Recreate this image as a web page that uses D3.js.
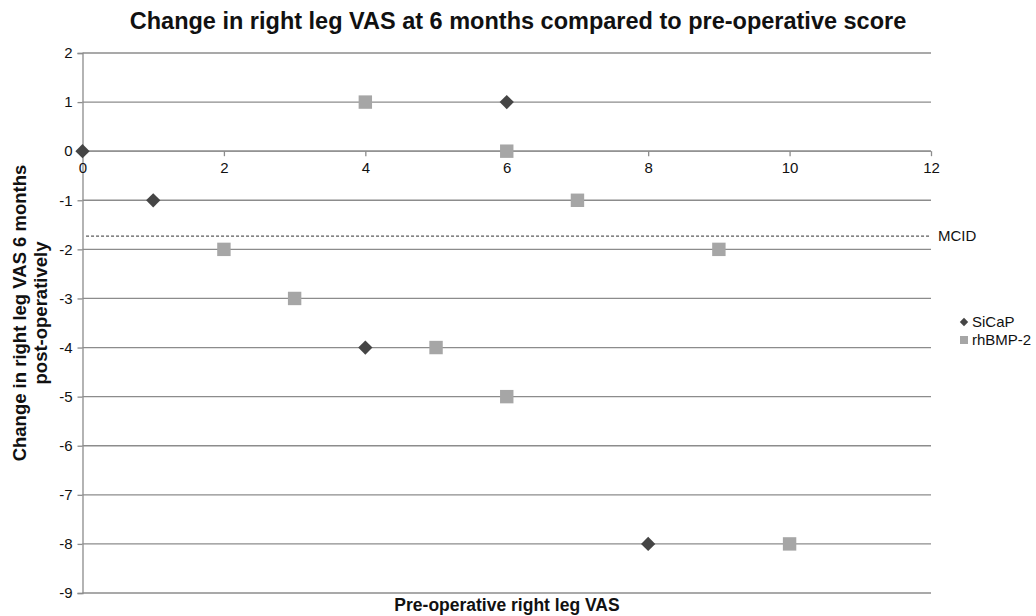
<!DOCTYPE html>
<html>
<head>
<meta charset="utf-8">
<script src="https://cdn.jsdelivr.net/npm/d3@7"></script>
<style>
  body { margin: 0; background: #fff; }
  svg { font-family: "Liberation Sans", Arial, sans-serif; }
</style>
</head>
<body>
<div id="chart"></div>
<script>
// Data
const sicapX = [0, 1, 6, 4, 8];
const sicapY = [0, -1, 1, -4, -8];
const bmpX = [4, 6, 7, 2, 9, 3, 5, 6, 10];
const bmpY = [1, 0, -1, -2, -2, -3, -4, -5, -8];
const xTicks = [0, 2, 4, 6, 8, 10, 12];
const yTicks = [2, 1, 0, -1, -2, -3, -4, -5, -6, -7, -8, -9];
const mcid = -1.73;

const width = 1036, height = 616;
const svg = d3.select('#chart').append('svg')
  .attr('width', width).attr('height', height);

const x = d3.scaleLinear().domain([0, 12]).range([82.5, 931]);
const y = d3.scaleLinear().domain([-9, 2]).range([593, 53]);

const gridColor = '#8c8c8c';
const fmt = d => String(d); // plain hyphen for negatives, as in the original

// horizontal gridlines
svg.append('g').selectAll('line')
  .data(yTicks)
  .join('line')
  .attr('x1', x(0)).attr('x2', x(12))
  .attr('y1', d => y(d)).attr('y2', d => y(d))
  .attr('stroke', gridColor).attr('stroke-width', 1.3);

// y axis
const yAxis = svg.append('g')
  .attr('transform', `translate(${x(0)},0)`)
  .call(d3.axisLeft(y).tickValues(yTicks).tickSize(5).tickFormat(fmt));
yAxis.selectAll('path, line').attr('stroke', gridColor).attr('stroke-width', 1.3);
yAxis.selectAll('text').attr('font-size', 15).attr('fill', '#111').attr('dx', '-2');

// x axis crosses at y = 0
const xAxis = svg.append('g')
  .attr('transform', `translate(0,${y(0)})`)
  .call(d3.axisBottom(x).tickValues(xTicks).tickSize(5).tickFormat(fmt));
xAxis.selectAll('path, line').attr('stroke', gridColor).attr('stroke-width', 1.3);
xAxis.select('.domain').attr('d', `M${x(0)},0H${x(12)}`);
xAxis.selectAll('text').attr('font-size', 15).attr('fill', '#111').attr('dy', '0.92em');

// MCID dashed line
svg.append('line')
  .attr('x1', x(0.05)).attr('x2', x(12))
  .attr('y1', y(mcid)).attr('y2', y(mcid))
  .attr('stroke', '#333').attr('stroke-width', 1)
  .attr('stroke-dasharray', '3,2');
svg.append('text')
  .attr('x', 938).attr('y', y(mcid) + 5)
  .attr('font-size', 15).attr('fill', '#111')
  .text('MCID');

// markers
const diamond = d3.symbol().type(d3.symbolDiamond2).size(130);
const square = d3.symbol().type(d3.symbolSquare).size(180);

const bmp = bmpX.map((v, i) => ({ x: v, y: bmpY[i] }));
const sicap = sicapX.map((v, i) => ({ x: v, y: sicapY[i] }));

svg.append('g').selectAll('path')
  .data(bmp)
  .join('path')
  .attr('transform', d => `translate(${x(d.x)},${y(d.y)})`)
  .attr('d', square)
  .attr('fill', '#a6a6a6');

svg.append('g').selectAll('path')
  .data(sicap)
  .join('path')
  .attr('transform', d => `translate(${x(d.x)},${y(d.y)})`)
  .attr('d', diamond)
  .attr('fill', '#454545');

// legend
const legend = svg.append('g').attr('transform', 'translate(964,322)');
legend.append('path').attr('d', d3.symbol().type(d3.symbolDiamond2).size(45)).attr('fill', '#454545');
legend.append('text').attr('x', 8).attr('y', 5).attr('font-size', 15).attr('fill', '#111').text('SiCaP');
legend.append('path').attr('transform', 'translate(0,18)')
  .attr('d', d3.symbol().type(d3.symbolSquare).size(64)).attr('fill', '#a6a6a6');
legend.append('text').attr('x', 8).attr('y', 23).attr('font-size', 15).attr('fill', '#111').text('rhBMP-2');

// title
svg.append('text')
  .attr('x', 518).attr('y', 29)
  .attr('text-anchor', 'middle')
  .attr('font-size', 23.5).attr('font-weight', 'bold').attr('fill', '#111')
  .text('Change in right leg VAS at 6 months compared to pre-operative score');

// axis titles
svg.append('text')
  .attr('x', 507).attr('y', 611)
  .attr('text-anchor', 'middle')
  .attr('font-size', 17.5).attr('font-weight', 'bold').attr('fill', '#111')
  .text('Pre-operative right leg VAS');

const yTitle = svg.append('text')
  .attr('transform', 'translate(0,313) rotate(-90)')
  .attr('text-anchor', 'middle')
  .attr('font-size', 18.5).attr('font-weight', 'bold').attr('fill', '#111');
yTitle.append('tspan').attr('x', 0).attr('y', 26).text('Change in right leg VAS 6 months');
yTitle.append('tspan').attr('x', 0).attr('y', 47).text('post-operatively');
</script>
</body>
</html>
